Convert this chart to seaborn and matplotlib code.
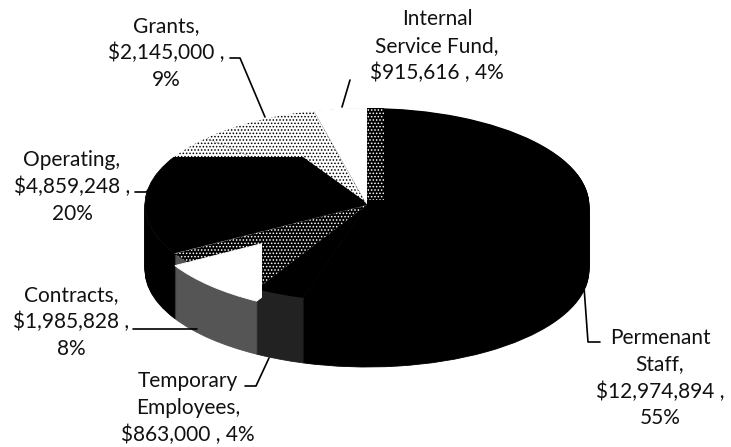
# 3D style budget pie, scanned look
import matplotlib
matplotlib.use('Agg')
import matplotlib.pyplot as plt
import seaborn as sns
from matplotlib.patches import Polygon

# data
categories = ['Permenant Staff', 'Temporary Employees', 'Contracts', 'Operating', 'Grants', 'Internal Service Fund']
amounts = [12974894, 863000, 1985828, 4859248, 2145000, 915616]
label_lines = [
    'Permenant\nStaff,\n$12,974,894 ,\n55%',
    'Temporary\nEmployees,\n$863,000 , 4%',
    'Contracts,\n$1,985,828 ,\n8%',
    'Operating,\n$4,859,248 ,\n20%',
    'Grants,\n$2,145,000 ,\n9%',
    'Internal\nService Fund,\n$915,616 , 4%',
]

sns.set_theme(style='white')
plt.rcParams['font.family'] = ['Lato', 'DejaVu Sans']
plt.rcParams['hatch.linewidth'] = 0.7

W, H = 731, 447
cx, cy, rx, ry, depth = 367, 205, 222, 97, 65


# picture pixels to data units of the pie
def dx(px):
    return (px - cx) / rx


def dy(py):
    return (cy - py) / ry


fig, ax = plt.subplots(figsize=(W / 100, H / 100), dpi=100)
ax.set_position([0, 0, 1, 1])


def draw_pie(colors, center=(0, 0), hatches=None, hatch_colors=None):
    wedges, _ = ax.pie(amounts, colors=colors, startangle=90, counterclock=False,
                       center=center, radius=1, hatch=hatches,
                       wedgeprops={'linewidth': 0})
    for i, w in enumerate(wedges):
        if hatch_colors:
            w.set_edgecolor(hatch_colors[i])
        else:
            # solid pies get an edge in their own colour so no seams show between slices
            w.set_edgecolor(colors[i])
            w.set_linewidth(0.6)
    return wedges


def clip_wedges(wedges, keep, outline):
    # only the slices in keep stay, and only inside outline (picture pixels)
    poly = Polygon([(dx(x), dy(y)) for x, y in outline], transform=ax.transData)
    for i, w in enumerate(wedges):
        if i in keep:
            w.set_clip_on(True)
            w.set_clip_path(poly)
        else:
            w.set_visible(False)


# side of the pie, stacked from the bottom up
side_colors = ['black', '#222222', '#555555', 'black', 'black', 'black']
for step in range(depth, 0, -1):
    draw_pie(side_colors, center=(0, -step / ry))

# top surface
top_colors = ['black', 'black', 'black', 'white', 'white', 'white']
top_hatch = ['', '', '.....', '.....', '.....', '']
hatch_col = ['white', 'white', 'white', 'black', 'black', 'black']
draw_pie(top_colors, hatches=top_hatch, hatch_colors=hatch_col)

# the scan flattens the shading into blocks, so some slices change inside
dark_block = draw_pie(['black'] * 6)
clip_wedges(dark_block, [3, 4], [(140, 157), (303, 157), (363, 200), (367, 205), (140, 262)])

white_block = draw_pie(['white'] * 6, center=(0, -12 / ry))
clip_wedges(white_block, [2], [(140, 240), (262, 240), (262, 320), (140, 320)])

strip = draw_pie(['black'] * 6, hatches=['.....'] * 6, hatch_colors=['white'] * 6)
clip_wedges(strip, [0], [(367, 100), (384, 100), (384, 200), (367, 200)])

ax.set_xlim(dx(0), dx(W))
ax.set_ylim(dy(H), dy(0))
ax.set_aspect('auto')

# labels
label_pos = [(660, 378), (188, 408), (71, 322), (72, 187), (166, 53), (437, 46)]
for txt, (x, y) in zip(label_lines, label_pos):
    ax.text(dx(x), dy(y), txt, ha='center', va='center', fontsize=15, color='#111111',
            linespacing=1.42)

# leader lines
leaders = [
    [(583, 273), (588, 342), (600, 342)],
    [(269, 358), (256, 386), (245, 386)],
    [(197, 329), (133, 329)],
    [(151, 188), (146, 192), (135, 192)],
    [(265, 117), (240, 58), (230, 58)],
    [(342, 107), (350, 80)],
]
for pts in leaders:
    ax.plot([dx(p[0]) for p in pts], [dy(p[1]) for p in pts], color='black', lw=1.2,
            solid_joinstyle='round')

sns.despine(ax=ax, left=True, bottom=True)
fig.savefig('out.png', dpi=100)
